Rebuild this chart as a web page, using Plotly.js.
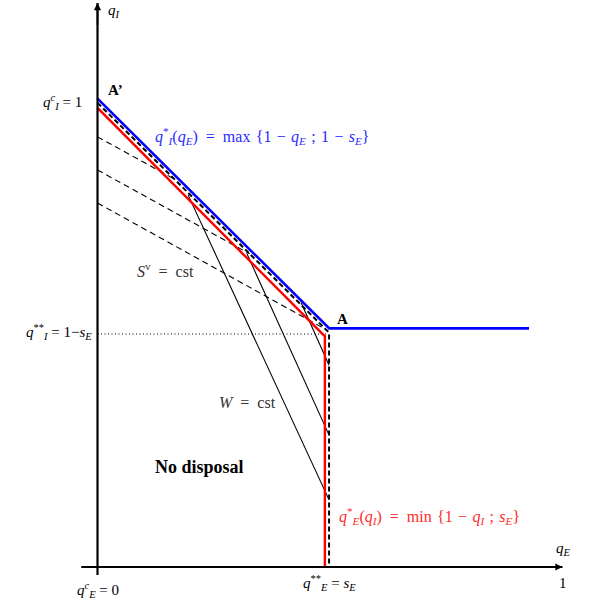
<!DOCTYPE html>
<html>
<head>
<meta charset="utf-8">
<script src="https://cdn.plot.ly/plotly-3.0.1.min.js"></script>
<style>html,body{margin:0;padding:0;background:#fff;}</style>
</head>
<body>
<div id="chart" style="width:595px;height:606px;"></div>
<script>
// ---- data ----
const sE = 0.5;
// q_I*(q_E) = max{1 - q_E ; 1 - s_E}  (blue)
const blueX = [0, 0.4985, 0.928];
const blueY = [1.005, 0.512, 0.512];
// frontier (black dashed)
const frontX = [0, 0.498, 0.498];
const frontY = [0.996, 0.503, 0];
// q_E*(q_I) = min{1 - q_I ; s_E}  (red)
const redX = [0, 0.489, 0.489];
const redY = [0.985, 0.495, 0];
// S^v = cst iso-lines (dashed)
const sv1X = [0, 0.166], sv1Y = [0.923, 0.832];
const sv2X = [0, 0.327], sv2Y = [0.852, 0.672];
const sv3X = [0, 0.487], sv3Y = [0.781, 0.512];
// W = cst iso-lines (solid)
const w1X = [0.195, 0.498], w1Y = [0.798, 0.144];
const w2X = [0.321, 0.498], w2Y = [0.673, 0.283];
const w3X = [0.438, 0.498], w3Y = [0.567, 0.433];
// dotted guide at q_I** = 1 - s_E
const dotX = [0, 0.495], dotY = [1 - sE, 1 - sE];
// axes
const xAxisX = [-0.035, 1.0], xAxisY = [0, 0];
const yAxisX = [0, 0], yAxisY = [-0.017, 1.21];

const F = "Liberation Serif, Times New Roman, serif";
const S = '\u2002'; // wide space (around =)
const T = '\u2004'; // medium space
function line(x, y, color, width, dash) {
  return {x: x, y: y, type: 'scatter', mode: 'lines', hoverinfo: 'skip',
          line: {color: color, width: width, dash: dash || 'solid'}, showlegend: false};
}
const traces = [
  line(dotX, dotY, '#000', 1.1, '1px,2.5px'),
  line(sv1X, sv1Y, '#000', 1.1, '6px,4px'),
  line(sv2X, sv2Y, '#000', 1.1, '6px,4px'),
  line(sv3X, sv3Y, '#000', 1.1, '6px,4px'),
  line(w1X, w1Y, '#000', 1.1),
  line(w2X, w2Y, '#000', 1.1),
  line(w3X, w3Y, '#000', 1.1),
  line(redX, redY, '#ff0000', 2.4),
  line(blueX, blueY, '#0000ff', 2.6),
  line(frontX, frontY, '#000', 2.0, '5px,3px'),
  line(xAxisX, xAxisY, '#000', 2.2),
  line(yAxisX, yAxisY, '#000', 2.2)
];

function txt(x, y, text, opts) {
  opts = opts || {};
  return Object.assign({x: x, y: y, xref: 'x', yref: 'y', text: text, showarrow: false,
    xanchor: 'left', yanchor: 'middle',
    font: {family: F, size: opts.size || 15, color: opts.color || '#000'}}, opts.extra || {});
}
const annotations = [
  // axis arrows
  {x: 1.0, y: 0, ax: 0.95, ay: 0, xref: 'x', yref: 'y', axref: 'x', ayref: 'y', text: '',
   showarrow: true, arrowhead: 2, arrowsize: 0.9, arrowwidth: 1.6, arrowcolor: '#000'},
  {x: 0, y: 1.21, ax: 0, ay: 1.16, xref: 'x', yref: 'y', axref: 'x', ayref: 'y', text: '',
   showarrow: true, arrowhead: 2, arrowsize: 0.9, arrowwidth: 1.6, arrowcolor: '#000'},
  txt(0.018, 1.2167, '<i>q</i><sub><i>I</i></sub>', {extra: {yanchor: 'top'}}),
  txt(-0.029, 0.998, '<i>q</i><sup><i>c</i></sup><sub><i>I</i></sub> = 1', {extra: {xanchor: 'right'}}),
  txt(0.018, 1.0236, '<b>A’</b>'),
  txt(0.119, 0.925, '<i>q</i><sup>*</sup><sub><i>I</i></sub>(<i>q</i><sub><i>E</i></sub>)' + S + '=' + S + 'max' + T + '{1' + T + '−' + T + '<i>q</i><sub><i>E</i></sub>' + T + ';' + T + '1' + T + '−' + T + '<i>s</i><sub><i>E</i></sub>}', {color: '#2a2aff', size: 16}),
  txt(0.081, 0.637, '<i>S</i><sup>v</sup>' + S + '=' + S + 'cst', {color: '#333', size: 16}),
  txt(-0.0075, 0.504, '<i>q</i><sup>**</sup><sub><i>I</i></sub> = 1−<i>s</i><sub><i>E</i></sub>', {extra: {xanchor: 'right'}}),
  txt(0.511, 0.532, '<b>A</b>'),
  txt(0.257, 0.352, '<i>W</i>' + S + '=' + S + 'cst', {color: '#333', size: 16}),
  txt(0.119, 0.2146, '<b>No disposal</b>', {size: 18}),
  txt(0.515, 0.109, '<i>q</i><sup>*</sup><sub><i>E</i></sub>(<i>q</i><sub><i>I</i></sub>)' + S + '=' + S + 'min' + T + '{1' + T + '−' + T + '<i>q</i><sub><i>I</i></sub>' + T + ';' + T + '<i>s</i><sub><i>E</i></sub>}', {color: '#ff2a2a', size: 16}),
  txt(0.982, 0.0386, '<i>q</i><sub><i>E</i></sub>'),
  txt(0.001, -0.049, '<i>q</i><sup><i>c</i></sup><sub><i>E</i></sub> = 0', {extra: {xanchor: 'center'}}),
  txt(0.498, -0.034, '<i>q</i><sup>**</sup><sub><i>E</i></sub> = <i>s</i><sub><i>E</i></sub>', {extra: {xanchor: 'center'}}),
  txt(1.001, -0.0343, '1', {extra: {xanchor: 'center'}})
];

const layout = {
  width: 595, height: 606,
  margin: {l: 0, r: 0, t: 0, b: 0},
  paper_bgcolor: '#fff', plot_bgcolor: '#fff',
  xaxis: {range: [-0.2097, 1.0699], visible: false, fixedrange: true},
  yaxis: {range: [-0.0837, 1.2167], visible: false, fixedrange: true},
  showlegend: false,
  annotations: annotations
};
Plotly.newPlot('chart', traces, layout, {staticPlot: true, displayModeBar: false});
</script>
</body>
</html>
